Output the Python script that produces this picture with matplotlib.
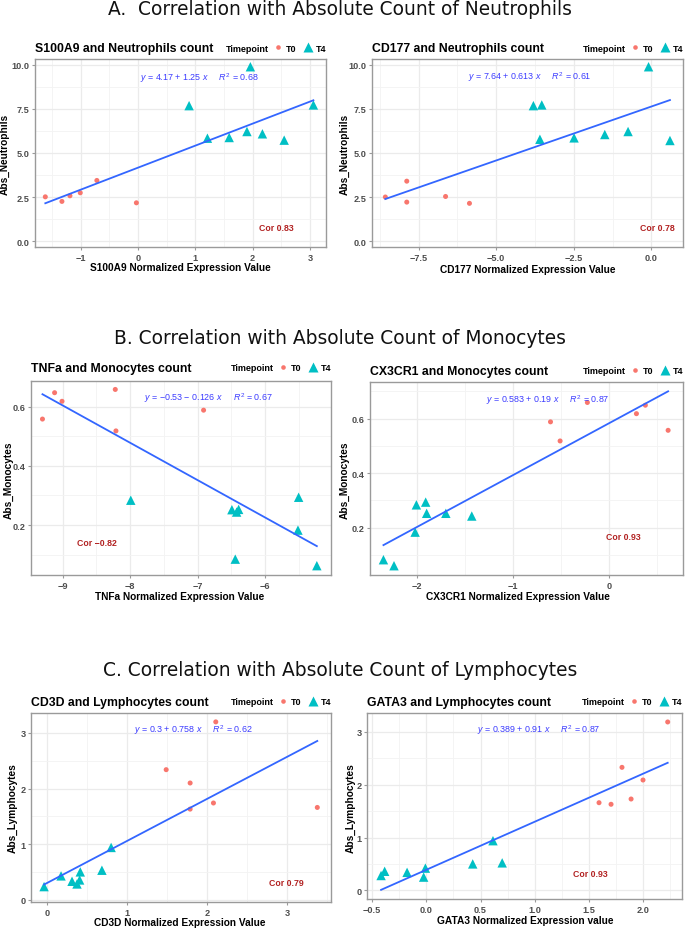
import matplotlib
matplotlib.use('Agg')
import matplotlib.pyplot as plt
from matplotlib.lines import Line2D
from matplotlib.ticker import MultipleLocator, FuncFormatter
import numpy as np

# ---------------- data ----------------
s100a9_t0_x = [-1.62, -1.33, -1.19, -1.01, -0.72, -0.03]
s100a9_t0_y = [2.51, 2.25, 2.57, 2.74, 3.44, 2.17]
s100a9_t4_x = [0.89, 1.21, 1.59, 1.90, 1.96, 2.17, 2.55, 3.06]
s100a9_t4_y = [7.69, 5.84, 5.88, 6.22, 9.90, 6.09, 5.73, 7.73]
s100a9_fit = [4.17, 1.25, 0.68]
s100a9_cor = 0.83

cd177_t0_x = [-8.57, -7.88, -7.88, -6.63, -5.86]
cd177_t0_y = [2.50, 3.40, 2.21, 2.53, 2.14]
cd177_t4_x = [-3.80, -3.53, -3.59, -2.49, -1.50, -0.75, -0.09, 0.60]
cd177_t4_y = [7.69, 7.73, 5.78, 5.86, 6.05, 6.22, 9.90, 5.71]
cd177_fit = [7.64, 0.613, 0.61]
cd177_cor = 0.78

tnfa_t0_x = [-9.30, -9.12, -9.01, -8.22, -8.21, -6.91]
tnfa_t0_y = [0.558, 0.647, 0.618, 0.658, 0.518, 0.588]
tnfa_t4_x = [-7.99, -6.49, -6.42, -6.39, -6.44, -5.50, -5.51, -5.23]
tnfa_t4_y = [0.284, 0.252, 0.244, 0.253, 0.085, 0.294, 0.183, 0.063]
tnfa_fit = [-0.53, -0.126, 0.67]
tnfa_cor = -0.82

cx3cr1_t0_x = [-0.61, -0.51, -0.226, 0.285, 0.378, 0.615]
cx3cr1_t0_y = [0.588, 0.518, 0.659, 0.618, 0.649, 0.557]
cx3cr1_t4_x = [-2.35, -2.24, -2.007, -1.91, -1.90, -2.02, -1.70, -1.43]
cx3cr1_t4_y = [0.083, 0.061, 0.284, 0.294, 0.253, 0.184, 0.253, 0.243]
cx3cr1_fit = [0.583, 0.19, 0.87]
cx3cr1_cor = 0.93

cd3d_t0_x = [1.487, 1.786, 1.786, 2.077, 2.106, 3.373]
cd3d_t0_y = [2.34, 2.10, 1.63, 1.74, 3.20, 1.66]
cd3d_t4_x = [-0.037, 0.175, 0.312, 0.374, 0.415, 0.407, 0.685, 0.80]
cd3d_t4_y = [0.235, 0.428, 0.331, 0.283, 0.50, 0.355, 0.53, 0.94]
cd3d_fit = [0.3, 0.758, 0.62]
cd3d_cor = 0.79

gata3_t0_x = [2.228, 1.806, 2.0, 1.89, 1.594, 1.705]
gata3_t0_y = [3.19, 2.33, 2.09, 1.73, 1.66, 1.63]
gata3_t4_x = [-0.418, -0.385, -0.178, -0.009, -0.025, 0.428, 0.615, 0.70]
gata3_t4_y = [0.28, 0.36, 0.34, 0.42, 0.25, 0.50, 0.94, 0.52]
gata3_fit = [0.389, 0.91, 0.87]
gata3_cor = 0.93

section_titles = ["A.  Correlation with Absolute Count of Neutrophils",
                  "B. Correlation with Absolute Count of Monocytes",
                  "C. Correlation with Absolute Count of Lymphocytes"]
legend_title = "Timepoint"
legend_labels = ["T0", "T4"]

# ---------------- style ----------------
W, H = 685, 929
FONT = 'Liberation Sans'
plt.rcParams['font.family'] = [FONT, 'DejaVu Sans']
plt.rcParams['mathtext.fontset'] = 'custom'
plt.rcParams['mathtext.rm'] = FONT
plt.rcParams['mathtext.it'] = FONT + ':italic'
plt.rcParams['mathtext.bf'] = FONT + ':bold'

C_T0 = '#F8766D'
C_T4 = '#00BFC4'
C_LINE = '#3366FF'
C_EQ = '#3B3BFF'
C_COR = '#B22222'
C_TICK = '#4D4D4D'

FS_TITLE = 8.8
FS_LABEL = 7.3
FS_TICK = 6.6
FS_EQ = 6.4
FS_COR = 6.3
FS_LEG = 6.5
FS_SECTION = 13.4

fig = plt.figure(figsize=(W / 100, H / 100), dpi=100)


def rect(l, t, r, b):
    return [l / W, 1 - b / H, (r - l) / W, (b - t) / H]


def minus_fmt(fmt):
    def f(v, pos):
        if abs(v) < 1e-9:
            v = 0.0
        return (fmt % v).replace('-', '\u2212')
    return FuncFormatter(f)


def fmt_eq(fit):
    a, b, r2 = fit
    sign = '+' if b >= 0 else '\u2212'
    a_s = f"{a:g}".replace('-', '\u2212')
    return (r"$\mathit{y}$ = " + a_s + f" {sign} {abs(b):g} " + r"$\mathit{x}$" +
            "     " + r"$\mathit{R}^{2}$" + f" = {r2:g}")


panels = [
    dict(rect=rect(35, 60, 326, 248), t0=(s100a9_t0_x, s100a9_t0_y), t4=(s100a9_t4_x, s100a9_t4_y),
         fit=s100a9_fit, cor=s100a9_cor, title="S100A9 and Neutrophils count",
         xlabel="S100A9 Normalized Expression Value", ylabel="Abs_Neutrophils",
         xlim=(-1.80, 3.28), ylim=(-0.34, 10.34), xmaj=1, ymaj=2.5, xfmt='%d', yfmt='%.1f',
         eq=(1.07, 9.3), corpos=(2.42, 0.79), title_y=49, xl=(180, 268), yl=(5, 154)),
    dict(rect=rect(372, 60, 683, 248), t0=(cd177_t0_x, cd177_t0_y), t4=(cd177_t4_x, cd177_t4_y),
         fit=cd177_fit, cor=cd177_cor, title="CD177 and Neutrophils count",
         xlabel="CD177 Normalized Expression Value", ylabel="Abs_Neutrophils",
         xlim=(-9.0, 1.02), ylim=(-0.34, 10.34), xmaj=2.5, ymaj=2.5, xfmt='%.1f', yfmt='%.1f',
         eq=(-3.93, 9.36), corpos=(0.18, 0.76), title_y=49, xl=(528, 270), yl=(345, 154)),
    dict(rect=rect(31, 382, 331, 576), t0=(tnfa_t0_x, tnfa_t0_y), t4=(tnfa_t4_x, tnfa_t4_y),
         fit=tnfa_fit, cor=tnfa_cor, title="TNFa and Monocytes count",
         xlabel="TNFa Normalized Expression Value", ylabel="Abs_Monocytes",
         xlim=(-9.47, -5.02), ylim=(0.0315, 0.6865), xmaj=1, ymaj=0.2, xfmt='%d', yfmt='%.1f',
         eq=(-6.84, 0.633), corpos=(-8.49, 0.142), title_y=369, xl=(180, 597), yl=(9, 480)),
    dict(rect=rect(370, 383, 683, 576), t0=(cx3cr1_t0_x, cx3cr1_t0_y), t4=(cx3cr1_t4_x, cx3cr1_t4_y),
         fit=cx3cr1_fit, cor=cx3cr1_cor, title="CX3CR1 and Monocytes count",
         xlabel="CX3CR1 Normalized Expression Value", ylabel="Abs_Monocytes",
         xlim=(-2.49, 0.77), ylim=(0.027, 0.734), xmaj=1, ymaj=0.2, xfmt='%d', yfmt='%.1f',
         eq=(-0.635, 0.671), corpos=(0.15, 0.168), title_y=372, xl=(518, 597), yl=(345, 480)),
    dict(rect=rect(31, 714, 331, 903), t0=(cd3d_t0_x, cd3d_t0_y), t4=(cd3d_t4_x, cd3d_t4_y),
         fit=cd3d_fit, cor=cd3d_cor, title="CD3D and Lymphocytes count",
         xlabel="CD3D Normalized Expression Value", ylabel="Abs_Lymphocytes",
         xlim=(-0.20, 3.544), ylim=(-0.042, 3.36), xmaj=1, ymaj=1, xfmt='%d', yfmt='%d',
         eq=(1.82, 3.07), corpos=(2.99, 0.31), title_y=703, xl=(180, 923), yl=(13, 808)),
    dict(rect=rect(367, 714, 682, 900), t0=(gata3_t0_x, gata3_t0_y), t4=(gata3_t4_x, gata3_t4_y),
         fit=gata3_fit, cor=gata3_cor, title="GATA3 and Lymphocytes count",
         xlabel="GATA3 Normalized Expression value", ylabel="Abs_Lymphocytes",
         xlim=(-0.548, 2.36), ylim=(-0.165, 3.36), xmaj=0.5, ymaj=1, xfmt='%.1f', yfmt='%d',
         eq=(1.04, 3.06), corpos=(1.51, 0.32), title_y=703, xl=(525, 921), yl=(351, 808)),
]

legends = []
for p in panels:
    ax = fig.add_axes(p['rect'])
    ax.set_xlim(*p['xlim'])
    ax.set_ylim(*p['ylim'])
    ax.xaxis.set_major_locator(MultipleLocator(p['xmaj']))
    ax.xaxis.set_minor_locator(MultipleLocator(p['xmaj'] / 2))
    ax.yaxis.set_major_locator(MultipleLocator(p['ymaj']))
    ax.yaxis.set_minor_locator(MultipleLocator(p['ymaj'] / 2))
    ax.xaxis.set_major_formatter(minus_fmt(p['xfmt']))
    ax.yaxis.set_major_formatter(minus_fmt(p['yfmt']))
    ax.grid(which='major', color='#EBEBEB', lw=0.9, zorder=0)
    ax.grid(which='minor', color='#F3F3F3', lw=0.6, zorder=0)
    ax.set_axisbelow(True)
    for s in ax.spines.values():
        s.set_color('#9A9A9A')
        s.set_linewidth(1.0)
    ax.tick_params(which='major', length=2.5, width=0.8, color='#9A9A9A', pad=1.5,
                   labelsize=FS_TICK, labelcolor=C_TICK)
    ax.tick_params(which='minor', length=0)
    for lab in ax.get_xticklabels() + ax.get_yticklabels():
        lab.set_fontweight('bold')

    x0, y0 = p['t0']
    x4, y4 = p['t4']
    ax.scatter(x0, y0, s=13, color=C_T0, edgecolors='none', zorder=3)
    ax.scatter(x4, y4, s=46, marker='^', color=C_T4, edgecolors='none', zorder=3)

    allx = np.array(list(x0) + list(x4))
    a, b, r2 = p['fit']
    xs = np.array([allx.min(), allx.max()])
    ax.plot(xs, a + b * xs, color=C_LINE, lw=1.3, zorder=4)

    ax.text(p['eq'][0], p['eq'][1], fmt_eq(p['fit']), color=C_EQ, fontsize=FS_EQ,
            ha='center', va='center', zorder=5)
    ax.text(p['corpos'][0], p['corpos'][1], f"Cor {p['cor']:g}".replace('-', '\u2212'),
            color=C_COR, fontsize=FS_COR, fontweight='bold', ha='center', va='center', zorder=5)

    l = p['rect'][0] * W
    r = (p['rect'][0] + p['rect'][2]) * W
    fig.text(l / W, 1 - p['title_y'] / H, p['title'], fontsize=FS_TITLE, fontweight='bold',
             ha='left', va='center', color='black')

    ax.set_xlabel(p['xlabel'], fontsize=FS_LABEL, fontweight='bold')
    ax.xaxis.set_label_coords(p['xl'][0] / W, 1 - p['xl'][1] / H, transform=fig.transFigure)
    ax.xaxis.label.set_va('center')
    ax.set_ylabel(p['ylabel'], fontsize=FS_LABEL, fontweight='bold')
    ax.yaxis.set_label_coords(p['yl'][0] / W, 1 - p['yl'][1] / H, transform=fig.transFigure)
    ax.yaxis.label.set_va('center')

    handles = [Line2D([], [], ls='', marker='o', ms=3.3, color=C_T0, mec='none'),
               Line2D([], [], ls='', marker='^', ms=6.5, color=C_T4, mec='none')]
    leg = fig.legend(handles, legend_labels, ncol=2, loc='center right',
                     bbox_to_anchor=(r / W, 1 - p['title_y'] / H), frameon=False,
                     handlelength=0.9, handletextpad=0.35, columnspacing=0.9,
                     borderpad=0, borderaxespad=0,
                     prop={'family': FONT, 'weight': 'bold', 'size': FS_LEG})
    legends.append((leg, p['title_y']))

# section titles
sec_y = [15, 344, 676]
for txt, yb in zip(section_titles, sec_y):
    fig.text(340 / W, 1 - yb / H, txt, fontsize=FS_SECTION, family='DejaVu Sans',
             ha='center', va='baseline', color='#111111')

fig.canvas.draw()
renderer = fig.canvas.get_renderer()
for leg, ty in legends:
    bb = leg.get_window_extent(renderer)
    fig.text((bb.x0 - 5) / W, 1 - ty / H, legend_title, fontsize=FS_LEG, fontweight='bold',
             ha='right', va='center')

fig.savefig('out.png', dpi=100)
